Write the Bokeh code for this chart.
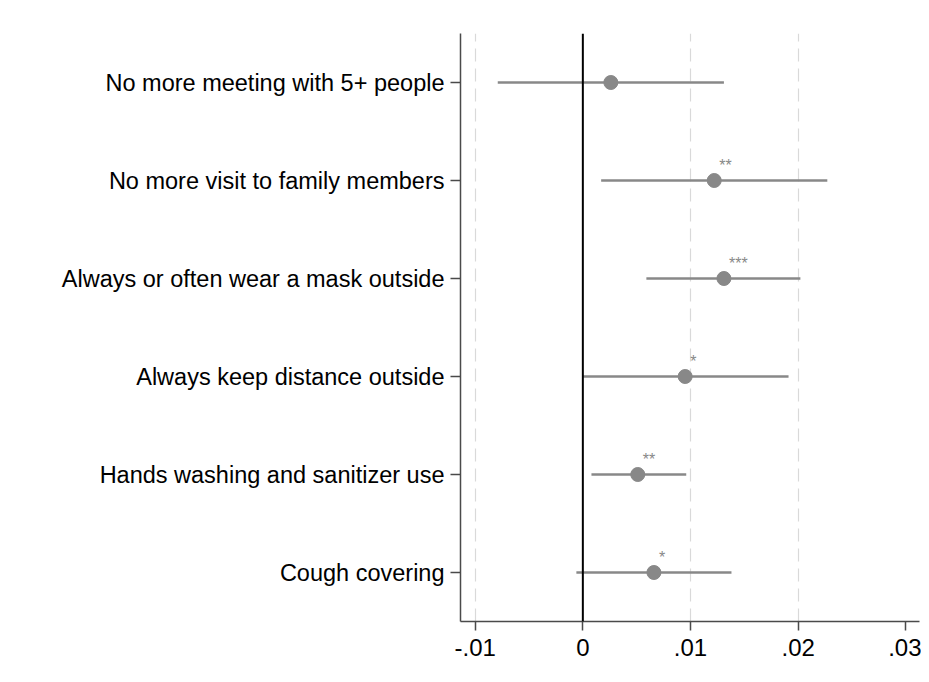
from bokeh.plotting import figure
from bokeh.models import FactorRange, Range1d, FixedTicker, Span, ColumnDataSource
from bokeh.core.properties import value
from bokeh.embed import file_html
from bokeh.resources import INLINE

# ---- data ----
categories = [
    "No more meeting with 5+ people",
    "No more visit to family members",
    "Always or often wear a mask outside",
    "Always keep distance outside",
    "Hands washing and sanitizer use",
    "Cough covering",
]
coef = [0.0026, 0.0122, 0.0131, 0.0095, 0.0051, 0.0066]
ci_low = [-0.0079, 0.0017, 0.0059, 0.0000, 0.0008, -0.0006]
ci_high = [0.0131, 0.0227, 0.0202, 0.0191, 0.0096, 0.0138]
stars = ["", "**", "***", "*", "**", "*"]

x_ticks = [-0.01, 0.0, 0.01, 0.02, 0.03]
x_tick_labels = ["-.01", "0", ".01", ".02", ".03"]
grid_ticks = [-0.01, 0.01, 0.02]

FONT = "Liberation Sans"
GRAY = "#888888"
AXIS = "#4a4a4a"

src = ColumnDataSource(dict(cat=categories, coef=coef, lo=ci_low, hi=ci_high, stars=stars))

p = figure(
    width=921, height=674,
    x_range=Range1d(-0.01136, 0.03126),
    y_range=FactorRange(factors=list(reversed(categories))),
    output_backend="svg", toolbar_location=None,
    min_border_left=460, min_border_right=2, min_border_top=33, min_border_bottom=53,
)
p.outline_line_color = None
p.background_fill_color = "white"
p.border_fill_color = "white"

# grid
p.ygrid.grid_line_color = None
p.xgrid.ticker = FixedTicker(ticks=grid_ticks)
p.xgrid.grid_line_color = "#d9d9d9"
p.xgrid.grid_line_width = 1.2
p.xgrid.grid_line_dash = "13 7"

# zero line
p.add_layout(Span(location=0, dimension="height", line_color="black", line_width=2))

# CIs and points
p.segment(x0="lo", y0="cat", x1="hi", y1="cat", source=src, line_color=GRAY, line_width=2.4)
p.scatter(x="coef", y="cat", source=src, size=14, fill_color=GRAY, line_color=GRAY)
p.text(x="coef", y="cat", text="stars", source=src, x_offset=5, y_offset=-15,
       text_font=value(FONT), text_font_size="16px", text_color=GRAY,
       text_align="left", text_baseline="alphabetic")

# x axis
p.xaxis.ticker = FixedTicker(ticks=x_ticks)
p.xaxis.major_label_overrides = dict(zip(x_ticks, x_tick_labels))
p.xaxis.minor_tick_line_color = None
p.xaxis.major_tick_out = 9
p.xaxis.major_tick_in = 0
p.xaxis.major_label_standoff = 8
p.xaxis.major_label_text_font = FONT
p.xaxis.major_label_text_font_size = "24px"
p.xaxis.major_label_text_color = "black"
p.xaxis.axis_line_color = AXIS
p.xaxis.axis_line_width = 1.5
p.xaxis.major_tick_line_color = AXIS
p.xaxis.major_tick_line_width = 1.5

# y axis
p.yaxis.major_tick_out = 10
p.yaxis.major_tick_in = 0
p.yaxis.major_label_standoff = 6
p.yaxis.major_label_text_font = FONT
p.yaxis.major_label_text_font_size = "23.5px"
p.yaxis.major_label_text_color = "black"
p.yaxis.axis_line_color = AXIS
p.yaxis.axis_line_width = 1.5
p.yaxis.major_tick_line_color = AXIS
p.yaxis.major_tick_line_width = 1.5
p.yaxis.group_text_font_size = "0px"

open("out.html", "w").write(file_html(p, INLINE))
